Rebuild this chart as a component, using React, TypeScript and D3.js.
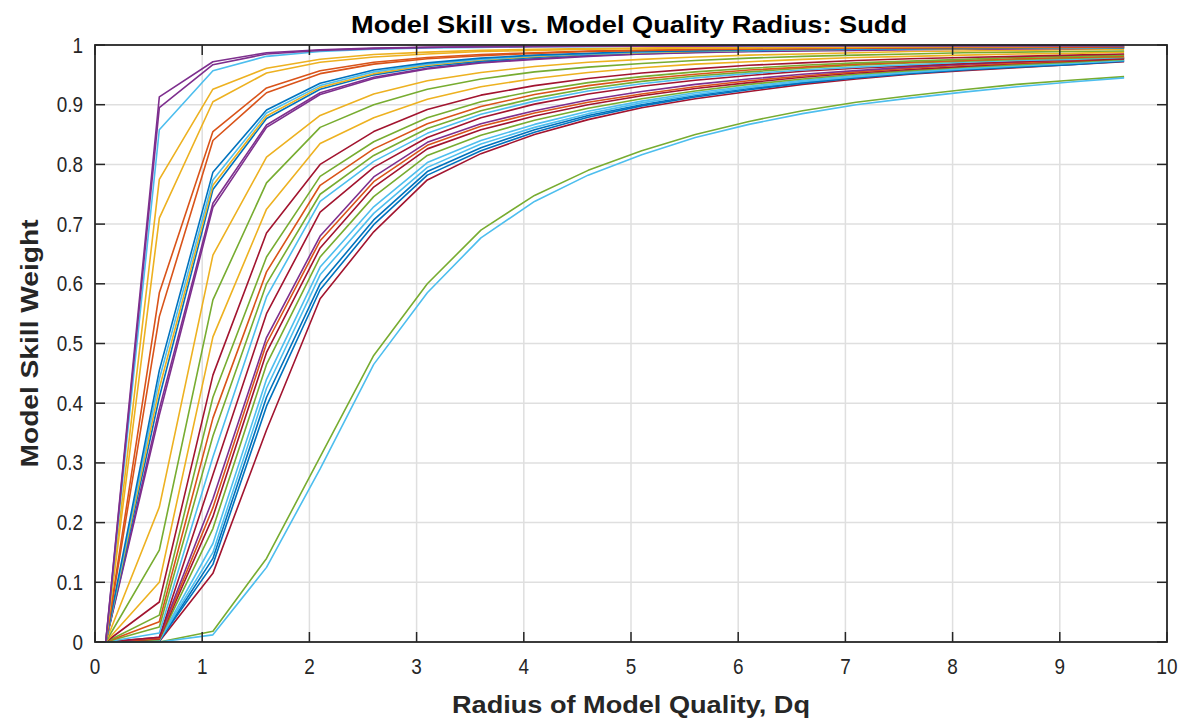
import React from "react";
import * as d3 from "d3";

const W = 1181;
const H = 719;

const xValues = [0.1, 0.6, 1.1, 1.6, 2.1, 2.6, 3.1, 3.6, 4.1, 4.6, 5.1, 5.6, 6.1, 6.6, 7.1, 7.6, 8.1, 8.6, 9.1, 9.6];

const xTicks = [0, 1, 2, 3, 4, 5, 6, 7, 8, 9, 10];
const yTicks = [0, 0.1, 0.2, 0.3, 0.4, 0.5, 0.6, 0.7, 0.8, 0.9, 1];

const titleText = "Model Skill vs. Model Quality Radius: Sudd";
const xLabelText = "Radius of Model Quality, Dq";
const yLabelText = "Model Skill Weight";

const C = {
  blue: "#0072BD",
  orange: "#D95319",
  yellow: "#EDB120",
  purple: "#7E2F8E",
  green: "#77AC30",
  cyan: "#4DBEEE",
  red: "#A2142F",
};

// upper group
const u1 = [0, 0.913, 0.972, 0.987, 0.992, 0.995, 0.996, 0.997, 0.998, 0.998, 0.998, 0.999, 0.999, 0.999, 0.999, 0.999, 0.999, 0.999, 0.999, 0.999];
const u2 = [0, 0.895, 0.967, 0.985, 0.991, 0.994, 0.996, 0.997, 0.997, 0.998, 0.998, 0.998, 0.999, 0.999, 0.999, 0.999, 0.999, 0.999, 0.999, 0.999];
const u3 = [0, 0.858, 0.957, 0.981, 0.989, 0.993, 0.995, 0.996, 0.997, 0.997, 0.998, 0.998, 0.998, 0.998, 0.999, 0.999, 0.999, 0.999, 0.999, 0.999];
const u4 = [0, 0.775, 0.926, 0.961, 0.976, 0.984, 0.988, 0.991, 0.993, 0.994, 0.995, 0.996, 0.996, 0.997, 0.997, 0.997, 0.998, 0.998, 0.998, 0.998];
const u5 = [0, 0.71, 0.905, 0.953, 0.971, 0.98, 0.985, 0.989, 0.991, 0.993, 0.994, 0.995, 0.995, 0.996, 0.996, 0.997, 0.997, 0.997, 0.998, 0.998];
const u6 = [0, 0.585, 0.855, 0.928, 0.957, 0.971, 0.979, 0.984, 0.987, 0.99, 0.991, 0.993, 0.994, 0.994, 0.995, 0.996, 0.996, 0.996, 0.997, 0.997];
const u7 = [0, 0.545, 0.84, 0.92, 0.952, 0.968, 0.977, 0.982, 0.986, 0.989, 0.991, 0.992, 0.993, 0.994, 0.995, 0.995, 0.996, 0.996, 0.996, 0.997];
const u8 = [0, 0.455, 0.787, 0.891, 0.936, 0.958, 0.97, 0.978, 0.983, 0.986, 0.989, 0.99, 0.992, 0.993, 0.994, 0.994, 0.995, 0.995, 0.996, 0.996];
const u9 = [0, 0.44, 0.774, 0.886, 0.932, 0.955, 0.968, 0.976, 0.982, 0.985, 0.988, 0.99, 0.991, 0.992, 0.993, 0.994, 0.995, 0.995, 0.995, 0.996];
const u10 = [0, 0.425, 0.765, 0.881, 0.929, 0.952, 0.966, 0.975, 0.981, 0.985, 0.987, 0.989, 0.991, 0.992, 0.993, 0.994, 0.994, 0.995, 0.995, 0.996];
const u11 = [0, 0.41, 0.758, 0.877, 0.926, 0.95, 0.964, 0.973, 0.979, 0.984, 0.987, 0.989, 0.99, 0.992, 0.993, 0.993, 0.994, 0.995, 0.995, 0.995];
const u12 = [0, 0.39, 0.735, 0.866, 0.92, 0.946, 0.961, 0.971, 0.977, 0.982, 0.985, 0.988, 0.989, 0.991, 0.992, 0.993, 0.993, 0.994, 0.995, 0.995];
const u13 = [0, 0.38, 0.728, 0.862, 0.917, 0.944, 0.96, 0.97, 0.976, 0.981, 0.985, 0.987, 0.989, 0.99, 0.991, 0.992, 0.993, 0.994, 0.994, 0.995];

// middle group
const m1 = [0, 0.226, 0.648, 0.812, 0.882, 0.918, 0.94, 0.954, 0.964, 0.971, 0.976, 0.98, 0.983, 0.985, 0.987, 0.989, 0.99, 0.991, 0.992, 0.993];
const m2 = [0, 0.154, 0.573, 0.769, 0.862, 0.9, 0.926, 0.943, 0.955, 0.963, 0.969, 0.974, 0.978, 0.981, 0.983, 0.985, 0.987, 0.988, 0.989, 0.99];
const m3 = [0, 0.1, 0.511, 0.725, 0.835, 0.878, 0.909, 0.93, 0.944, 0.954, 0.962, 0.968, 0.972, 0.976, 0.979, 0.981, 0.983, 0.985, 0.986, 0.988];
const m4 = [0, 0.067, 0.447, 0.685, 0.8, 0.855, 0.892, 0.916, 0.932, 0.944, 0.953, 0.96, 0.966, 0.97, 0.974, 0.977, 0.979, 0.981, 0.983, 0.985];
const m5 = [0, 0.045, 0.41, 0.645, 0.78, 0.838, 0.878, 0.905, 0.923, 0.937, 0.947, 0.955, 0.961, 0.966, 0.97, 0.973, 0.976, 0.979, 0.981, 0.983];
const m6 = [0, 0.034, 0.375, 0.62, 0.765, 0.826, 0.868, 0.897, 0.917, 0.932, 0.943, 0.951, 0.958, 0.963, 0.968, 0.971, 0.974, 0.977, 0.979, 0.981];
const m7 = [0, 0.025, 0.345, 0.6, 0.75, 0.815, 0.86, 0.89, 0.911, 0.927, 0.939, 0.948, 0.955, 0.961, 0.966, 0.97, 0.973, 0.976, 0.978, 0.98];
const m8 = [0, 0.015, 0.31, 0.578, 0.738, 0.805, 0.852, 0.884, 0.906, 0.923, 0.935, 0.945, 0.952, 0.958, 0.963, 0.967, 0.971, 0.974, 0.976, 0.979];
const m9 = [0, 0.008, 0.28, 0.55, 0.72, 0.795, 0.845, 0.878, 0.901, 0.918, 0.931, 0.941, 0.949, 0.956, 0.961, 0.965, 0.969, 0.972, 0.975, 0.977];

// lower group
const l1 = [0, 0.008, 0.24, 0.51, 0.68, 0.779, 0.837, 0.868, 0.89, 0.908, 0.922, 0.934, 0.943, 0.951, 0.957, 0.963, 0.968, 0.972, 0.976, 0.979];
const l2 = [0, 0.006, 0.225, 0.5, 0.672, 0.771, 0.832, 0.864, 0.886, 0.904, 0.918, 0.93, 0.94, 0.948, 0.955, 0.961, 0.966, 0.97, 0.974, 0.978];
const l3 = [0, 0.005, 0.21, 0.485, 0.66, 0.762, 0.826, 0.858, 0.881, 0.9, 0.915, 0.927, 0.937, 0.946, 0.953, 0.959, 0.964, 0.969, 0.973, 0.977];
const l4 = [0, 0.004, 0.19, 0.465, 0.645, 0.746, 0.815, 0.849, 0.874, 0.894, 0.91, 0.923, 0.934, 0.943, 0.951, 0.957, 0.963, 0.967, 0.971, 0.976];
const l5 = [0, 0.003, 0.165, 0.44, 0.628, 0.729, 0.803, 0.84, 0.867, 0.889, 0.906, 0.92, 0.931, 0.941, 0.949, 0.955, 0.961, 0.966, 0.97, 0.975];
const l6 = [0, 0.003, 0.15, 0.425, 0.615, 0.718, 0.795, 0.834, 0.862, 0.885, 0.903, 0.917, 0.929, 0.939, 0.947, 0.954, 0.96, 0.965, 0.969, 0.974];
const l7 = [0, 0.002, 0.14, 0.41, 0.6, 0.707, 0.788, 0.828, 0.858, 0.882, 0.9, 0.915, 0.927, 0.937, 0.946, 0.953, 0.959, 0.964, 0.968, 0.974];
const l8 = [0, 0.002, 0.13, 0.395, 0.59, 0.699, 0.782, 0.823, 0.854, 0.879, 0.898, 0.913, 0.925, 0.936, 0.945, 0.952, 0.958, 0.963, 0.967, 0.973];
const l9 = [0, 0.001, 0.115, 0.355, 0.575, 0.687, 0.774, 0.818, 0.85, 0.875, 0.895, 0.91, 0.922, 0.934, 0.943, 0.951, 0.957, 0.962, 0.967, 0.972];

// slowest pair
const b1 = [0, 0, 0.018, 0.14, 0.31, 0.48, 0.6, 0.69, 0.748, 0.79, 0.823, 0.85, 0.872, 0.89, 0.904, 0.915, 0.925, 0.934, 0.941, 0.947];
const b2 = [0, 0, 0.012, 0.125, 0.29, 0.465, 0.585, 0.677, 0.738, 0.782, 0.816, 0.845, 0.867, 0.885, 0.9, 0.911, 0.921, 0.93, 0.938, 0.945];

const series: { values: number[]; color: string }[] = [
  { values: l9, color: C.red },
  { values: l8, color: C.blue },
  { values: l7, color: C.blue },
  { values: l6, color: C.cyan },
  { values: l5, color: C.cyan },
  { values: l4, color: C.green },
  { values: l3, color: C.red },
  { values: l2, color: C.orange },
  { values: l1, color: C.purple },
  { values: m9, color: C.red },
  { values: m8, color: C.cyan },
  { values: m7, color: C.green },
  { values: m6, color: C.orange },
  { values: m5, color: C.green },
  { values: m4, color: C.red },
  { values: m3, color: C.yellow },
  { values: m2, color: C.green },
  { values: m1, color: C.yellow },
  { values: u13, color: C.purple },
  { values: u12, color: C.purple },
  { values: u11, color: C.blue },
  { values: u10, color: C.yellow },
  { values: u9, color: C.cyan },
  { values: u8, color: C.blue },
  { values: u7, color: C.orange },
  { values: u6, color: C.orange },
  { values: u5, color: C.yellow },
  { values: u4, color: C.yellow },
  { values: u3, color: C.cyan },
  { values: u2, color: C.purple },
  { values: u1, color: C.purple },
  { values: b1, color: C.green },
  { values: b2, color: C.cyan },
];

const left = 95;
const right = 1167;
const top = 45;
const bottom = 642;

export default function App() {
  const x = d3.scaleLinear().domain([0, 10]).range([left, right]);
  const y = d3.scaleLinear().domain([0, 1]).range([bottom, top]);
  const line = d3
    .line<number>()
    .x((_, i) => x(xValues[i]))
    .y((d) => y(d));

  const axisColor = "#262626";
  const gridColor = "#dfdfdf";
  const tickLen = 10;
  const font = "'Liberation Sans', Arial, sans-serif";
  const sx = 0.88;

  return (
    <div style={{ position: "absolute", left: 0, top: 0 }}>
      <svg width={W} height={H} style={{ display: "block", background: "#fff" }}>
        <rect x={0} y={0} width={W} height={H} fill="#fff" />
        {/* grid */}
        {xTicks.slice(1, -1).map((t) => (
          <line key={"gx" + t} x1={x(t)} x2={x(t)} y1={top} y2={bottom} stroke={gridColor} strokeWidth={1.5} />
        ))}
        {yTicks.slice(1, -1).map((t) => (
          <line key={"gy" + t} x1={left} x2={right} y1={y(t)} y2={y(t)} stroke={gridColor} strokeWidth={1.5} />
        ))}
        {/* series */}
        <g fill="none" strokeWidth={1.6} strokeLinejoin="round">
          {series.map((s, i) => (
            <path key={i} d={line(s.values) || ""} stroke={s.color} />
          ))}
        </g>
        {/* ticks */}
        <g stroke={axisColor} strokeWidth={1.5}>
          {xTicks.map((t) => (
            <g key={"tx" + t}>
              <line x1={x(t)} x2={x(t)} y1={bottom} y2={bottom - tickLen} />
              <line x1={x(t)} x2={x(t)} y1={top} y2={top + tickLen} />
            </g>
          ))}
          {yTicks.map((t) => (
            <g key={"ty" + t}>
              <line x1={left} x2={left + tickLen} y1={y(t)} y2={y(t)} />
              <line x1={right} x2={right - tickLen} y1={y(t)} y2={y(t)} />
            </g>
          ))}
        </g>
        {/* box */}
        <rect x={left} y={top} width={right - left} height={bottom - top} fill="none" stroke={axisColor} strokeWidth={1.8} />
        {/* tick labels */}
        <g fontFamily={font} fontSize={21.5} fill="#262626">
          {xTicks.map((t) => (
            <text key={"lx" + t} transform={`translate(${x(t)}, 674) scale(${sx}, 1)`} textAnchor="middle">
              {String(t)}
            </text>
          ))}
          {yTicks.map((t) => (
            <text key={"ly" + t} transform={`translate(83, ${y(t) + 7.5}) scale(${sx}, 1)`} textAnchor="end">
              {String(t)}
            </text>
          ))}
        </g>
        {/* title and labels */}
        <text x={629} y={33} textAnchor="middle" fontFamily={font} fontWeight="bold" fontSize={24} fill="#000" textLength={556} lengthAdjust="spacingAndGlyphs">
          {titleText}
        </text>
        <text x={631} y={713} textAnchor="middle" fontFamily={font} fontWeight="bold" fontSize={24} fill="#262626" textLength={358} lengthAdjust="spacingAndGlyphs">
          {xLabelText}
        </text>
        <text
          transform={`translate(38, ${(top + bottom) / 2}) rotate(-90)`}
          textAnchor="middle"
          fontFamily={font}
          fontWeight="bold"
          fontSize={24}
          fill="#262626"
          textLength={248}
          lengthAdjust="spacingAndGlyphs"
        >
          {yLabelText}
        </text>
      </svg>
    </div>
  );
}
